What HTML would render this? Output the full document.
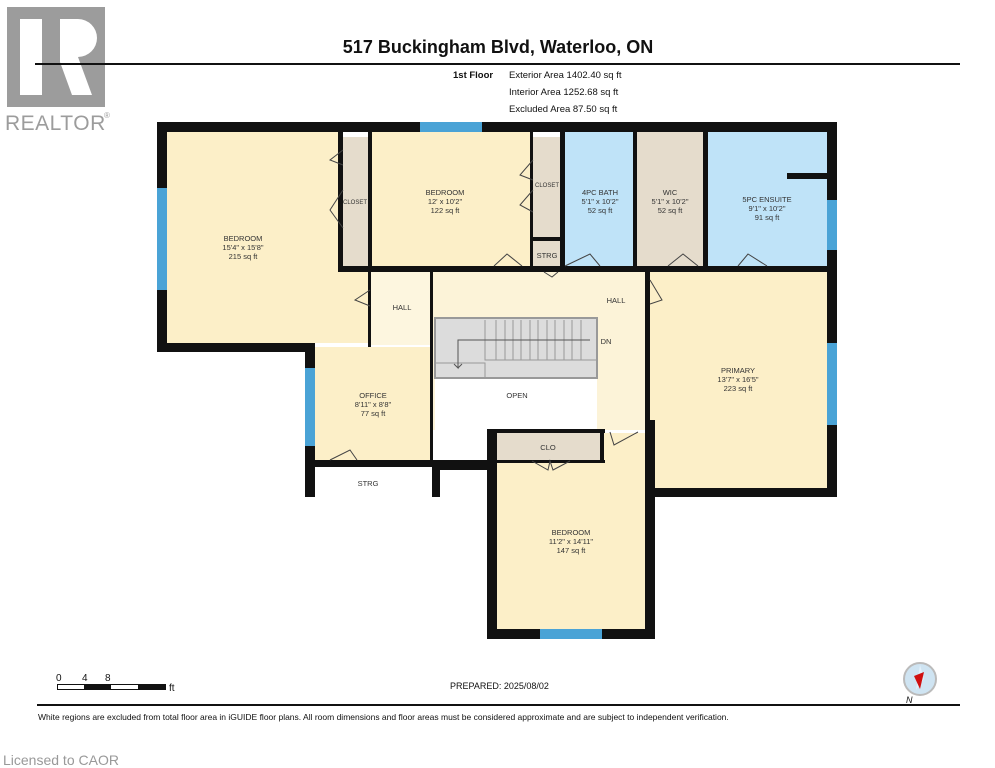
<!DOCTYPE html>
<html><head><meta charset="utf-8"><style>
body{margin:0;background:#fff;}
svg{display:block;font-family:"Liberation Sans",sans-serif;}
</style></head><body>
<svg width="995" height="768" viewBox="0 0 995 768" xmlns="http://www.w3.org/2000/svg">
<!-- Realtor logo -->
<rect x="7" y="7" width="98" height="100" fill="#9c9c9c"/>
<rect x="20" y="19" width="22" height="76" fill="#fff"/>
<path d="M60 19 H78 A18 18 0 0 1 78 57 L92 95 H72 L60 62 Z" fill="#fff"/>
<text x="5" y="130" font-size="21" letter-spacing="0.5" fill="#9c9c9c">REALTOR</text>
<text x="104" y="118" font-size="8" fill="#9c9c9c">®</text>
<!-- header -->
<text x="498" y="53" font-size="18" font-weight="bold" text-anchor="middle" fill="#111">517 Buckingham Blvd, Waterloo, ON</text>
<rect x="35" y="63" width="925" height="2" fill="#111"/>
<text x="453" y="78" font-size="9.5" font-weight="bold" fill="#111">1st Floor</text>
<text x="509" y="78" font-size="9.5" fill="#111">Exterior Area 1402.40 sq ft</text>
<text x="509" y="95" font-size="9.5" fill="#111">Interior Area 1252.68 sq ft</text>
<text x="509" y="112" font-size="9.5" fill="#111">Excluded Area 87.50 sq ft</text>

<!-- room fills -->
<g>
<rect x="167" y="132" width="176" height="211" fill="#fcefc8"/>
<rect x="167" y="270" width="202" height="73" fill="#fcefc8"/>
<rect x="343" y="137" width="27" height="131" fill="#e5dccc"/>
<rect x="370" y="132" width="162" height="134" fill="#fcefc8"/>
<rect x="533" y="137" width="27" height="101" fill="#e5dccc"/>
<rect x="533" y="241" width="27" height="25" fill="#e5dccc"/>
<rect x="563" y="132" width="71" height="134" fill="#bfe3f8"/>
<rect x="637" y="132" width="68" height="134" fill="#e5dccc"/>
<rect x="708" y="132" width="119" height="134" fill="#bfe3f8"/>
<rect x="370" y="272" width="62" height="73" fill="#fdf6df"/>
<rect x="432" y="272" width="213" height="158" fill="#fcf3d8"/>
<rect x="435" y="318" width="162" height="60" fill="#dcdcdc"/>
<rect x="435" y="378" width="162" height="85" fill="#fff"/>
<rect x="315" y="347" width="117" height="115" fill="#fcefc8"/>
<rect x="650" y="272" width="177" height="216" fill="#fcefc8"/>
<rect x="497" y="433" width="148" height="197" fill="#fcefc8"/>
<rect x="497" y="433" width="103" height="28" fill="#e5dccc"/>
</g>
<!-- stairs -->
<g stroke="#999" stroke-width="1" fill="none">
<rect x="435" y="318" width="162" height="60" stroke-width="2"/>
<path d="M485 320 V360 H597"/>
<path d="M496 320V360M505 320V360M513 320V360M521 320V360M530 320V360M538 320V360M547 320V360M555 320V360M564 320V360M572 320V360M581 320V360"/>
<path d="M435 363 H485 V378"/>
<path d="M590 340 H458 V368 L454 364 M458 368 L462 364" stroke="#555"/>
</g>
<!-- walls -->
<g fill="#111">
<rect x="157" y="122" width="680" height="10"/>
<rect x="157" y="122" width="10" height="230"/>
<rect x="157" y="343" width="158" height="9"/>
<rect x="305" y="343" width="10" height="154"/>
<rect x="305" y="460" width="130" height="7"/>
<rect x="432" y="460" width="65" height="10"/>
<rect x="432" y="460" width="8" height="37"/>
<rect x="487" y="429" width="10" height="210"/>
<rect x="487" y="629" width="168" height="10"/>
<rect x="645" y="420" width="10" height="219"/>
<rect x="645" y="488" width="192" height="9"/>
<rect x="827" y="122" width="10" height="375"/>
<rect x="645" y="268" width="5" height="222"/>
<rect x="338" y="266" width="499" height="6"/>
<rect x="338" y="132" width="5" height="140"/>
<rect x="368" y="132" width="4" height="140"/>
<rect x="530" y="132" width="3" height="136"/>
<rect x="560" y="132" width="5" height="136"/>
<rect x="533" y="237" width="27" height="4"/>
<rect x="633" y="132" width="4" height="136"/>
<rect x="703" y="132" width="5" height="136"/>
<rect x="787" y="173" width="40" height="6"/>
<rect x="495" y="429" width="110" height="4"/>
<rect x="600" y="429" width="4" height="34"/>
<rect x="495" y="460" width="110" height="3"/>
<rect x="368" y="272" width="3" height="75"/>
<rect x="430" y="272" width="3" height="190"/>
</g>
<!-- windows -->
<g fill="#4aa3d6">
<rect x="420" y="122" width="62" height="10"/>
<rect x="157" y="188" width="10" height="102"/>
<rect x="827" y="200" width="10" height="50"/>
<rect x="827" y="343" width="10" height="82"/>
<rect x="305" y="368" width="10" height="78"/>
<rect x="540" y="629" width="62" height="10"/>
</g>
<!-- doors -->
<g stroke="#444" stroke-width="1" fill="none">
<path d="M494 266 L507 254 L522 266"/>
<path d="M565 266 L590 254 L600 266"/>
<path d="M668 266 L683 254 L698 266"/>
<path d="M738 266 L748 254 L767 266"/>
<path d="M544 272 L552 277 L558 272"/>
<path d="M370 290 L355 300 L370 306"/>
<path d="M650 280 L662 300 L650 304"/>
<path d="M330 460 L350 450 L357 460"/>
<path d="M532 461 L548 470 L550 461 L553 470 L570 461"/>
<path d="M610 432 L614 445 L638 432"/>
<path d="M343 150 L330 160 L343 165 M343 190 L330 210 L343 228"/>
<path d="M533 160 L520 175 L533 180 M533 190 L520 205 L533 212"/>
</g>
<!-- labels -->
<g font-size="7.5" fill="#333" text-anchor="middle">
<text x="243" y="241">BEDROOM</text><text x="243" y="250">15'4" x 15'8"</text><text x="243" y="259">215 sq ft</text>
<text x="445" y="195">BEDROOM</text><text x="445" y="204">12' x 10'2"</text><text x="445" y="213">122 sq ft</text>
<text x="355" y="204" font-size="6">CLOSET</text>
<text x="547" y="187" font-size="6">CLOSET</text>
<text x="547" y="258">STRG</text>
<text x="600" y="195">4PC BATH</text><text x="600" y="204">5'1" x 10'2"</text><text x="600" y="213">52 sq ft</text>
<text x="670" y="195">WIC</text><text x="670" y="204">5'1" x 10'2"</text><text x="670" y="213">52 sq ft</text>
<text x="767" y="202">5PC ENSUITE</text><text x="767" y="211">9'1" x 10'2"</text><text x="767" y="220">91 sq ft</text>
<text x="402" y="310">HALL</text>
<text x="616" y="303">HALL</text>
<text x="606" y="344">DN</text>
<text x="517" y="398">OPEN</text>
<text x="373" y="398">OFFICE</text><text x="373" y="407">8'11" x 8'8"</text><text x="373" y="416">77 sq ft</text>
<text x="738" y="373">PRIMARY</text><text x="738" y="382">13'7" x 16'5"</text><text x="738" y="391">223 sq ft</text>
<text x="548" y="450">CLO</text>
<text x="571" y="535">BEDROOM</text><text x="571" y="544">11'2" x 14'11"</text><text x="571" y="553">147 sq ft</text>
<text x="368" y="486">STRG</text>
</g>
<!-- scale -->
<g font-size="10" fill="#111">
<text x="56" y="681">0</text><text x="82" y="681">4</text><text x="105" y="681">8</text><text x="169" y="691">ft</text>
<rect x="57.5" y="684.5" width="108" height="5" fill="#fff" stroke="#111"/>
<rect x="84" y="684" width="27" height="6"/>
<rect x="138" y="684" width="27" height="6"/>
<text x="450" y="689" font-size="9">PREPARED: 2025/08/02</text>
</g>
<circle cx="920" cy="679" r="16" fill="#cfe4f2" stroke="#bbb" stroke-width="2"/>
<path d="M920 665 L924 679 L916 690 Z" fill="#e3f1fb"/>
<path d="M924 672 L920 689 L914 676 Z" fill="#d01010"/>
<text x="906" y="703" font-size="9" font-style="italic" fill="#111">N</text>
<rect x="37" y="704" width="923" height="2" fill="#111"/>
<text x="38" y="720" font-size="8.5" fill="#111">White regions are excluded from total floor area in iGUIDE floor plans. All room dimensions and floor areas must be considered approximate and are subject to independent verification.</text>
<text x="3" y="765" font-size="14" fill="#999">Licensed to CAOR</text>
</svg>
</body></html>
